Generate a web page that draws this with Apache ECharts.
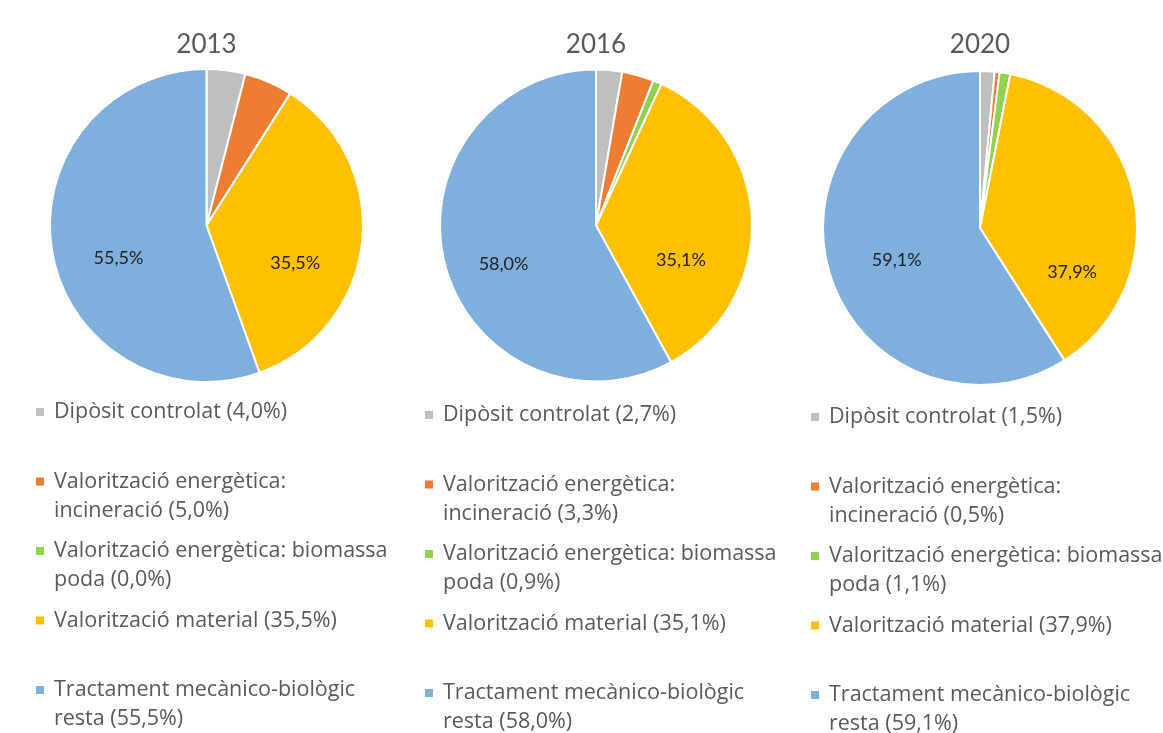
<!DOCTYPE html>
<html>
<head>
<meta charset="utf-8">
<script src="https://cdn.jsdelivr.net/npm/echarts@6/dist/echarts.min.js"></script>
<style>
html,body{margin:0;padding:0;background:#fff;}
#chart{width:1163px;height:733px;}
</style>
</head>
<body>
<div id="chart"></div>
<script>
// ---- data ----
const years = ['2013', '2016', '2020'];
const categories = [
  'Dipòsit controlat',
  'Valorització energètica: incineració',
  'Valorització energètica: biomassa poda',
  'Valorització material',
  'Tractament mecànico-biològic resta'
];
const legendText = [
  'Dipòsit controlat',
  'Valorització energètica:\nincineració',
  'Valorització energètica: biomassa\npoda',
  'Valorització material',
  'Tractament mecànico-biològic\nresta'
];
const values2013 = [4.0, 5.0, 0.0, 35.5, 55.5];
const values2016 = [2.7, 3.3, 0.9, 35.1, 58.0];
const values2020 = [1.5, 0.5, 1.1, 37.9, 59.1];
const valuesByYear = [values2013, values2016, values2020];

// ---- style ----
const colors = ['#BFBFBF', '#ED7D31', '#92D050', '#FFC000', '#7FAFDD'];
const pieCenters = [[206.5, 225.5], [596, 225.5], [980, 228]];
const pieRadius = [156.5, 156, 157];
const legendLeft = [36, 425, 811];
const legendTop = [368.5, 371.5, 373.5];
const labelOffsets = [
  [null, null, null, [8, 29], [-8, 19]],
  [null, null, null, [4, 37], [-14, 19]],
  [null, null, null, [12, 59], [-5, 9]]
];
const FONT = 'Lato, "Open Sans", sans-serif';
const LEGEND_FONT = '"Open Sans", Lato, sans-serif';

function fmt(v) { return v.toFixed(1).replace('.', ',') + '%'; }

const chart = echarts.init(document.getElementById('chart'), null, {renderer: 'canvas'});

const option = {
  backgroundColor: '#fff',
  animation: false,
  color: colors,
  title: years.map((y, i) => ({
    text: y,
    left: pieCenters[i][0],
    top: 45,
    padding: 0,
    textAlign: 'center',
    textVerticalAlign: 'middle',
    textStyle: {fontFamily: FONT, fontSize: 26, fontWeight: 'normal', color: '#595959'}
  })),
  legend: years.map((y, i) => ({
    data: categories,
    orient: 'vertical',
    left: legendLeft[i],
    top: legendTop[i],
    height: 500,
    padding: 0,
    icon: 'rect',
    itemWidth: 8,
    itemHeight: 8,
    itemGap: -17.5,
    selectedMode: false,
    itemStyle: {borderWidth: 0},
    textStyle: {fontFamily: LEGEND_FONT, fontSize: 21.5, color: '#595959', lineHeight: 29, padding: [0, 0, 0, 5]},
    formatter: function (name) {
      const k = categories.indexOf(name);
      const txt = legendText[k] + ' (' + fmt(valuesByYear[i][k]) + ')';
      return '\n' + txt + (txt.indexOf('\n') >= 0 ? '' : '\n ');
    }
  })),
  series: years.map((y, i) => ({
    name: y,
    type: 'pie',
    center: pieCenters[i],
    radius: pieRadius[i],
    startAngle: 90,
    clockwise: true,
    avoidLabelOverlap: false,
    emphasis: {disabled: true},
    itemStyle: {borderColor: '#fff', borderWidth: 2},
    label: {
      show: true,
      position: 'inside',
      fontFamily: FONT,
      fontSize: 18,
      color: '#222',
      formatter: p => fmt(p.value)
    },
    labelLine: {show: false},
    labelLayout: function (params) {
      const off = labelOffsets[params.seriesIndex] && labelOffsets[params.seriesIndex][params.dataIndex];
      return off ? {dx: off[0], dy: off[1]} : {};
    },
    data: categories.map((c, k) => ({
      name: c,
      value: valuesByYear[i][k],
      label: {show: valuesByYear[i][k] >= 10}
    }))
  }))
};
chart.setOption(option);
</script>
</body>
</html>
